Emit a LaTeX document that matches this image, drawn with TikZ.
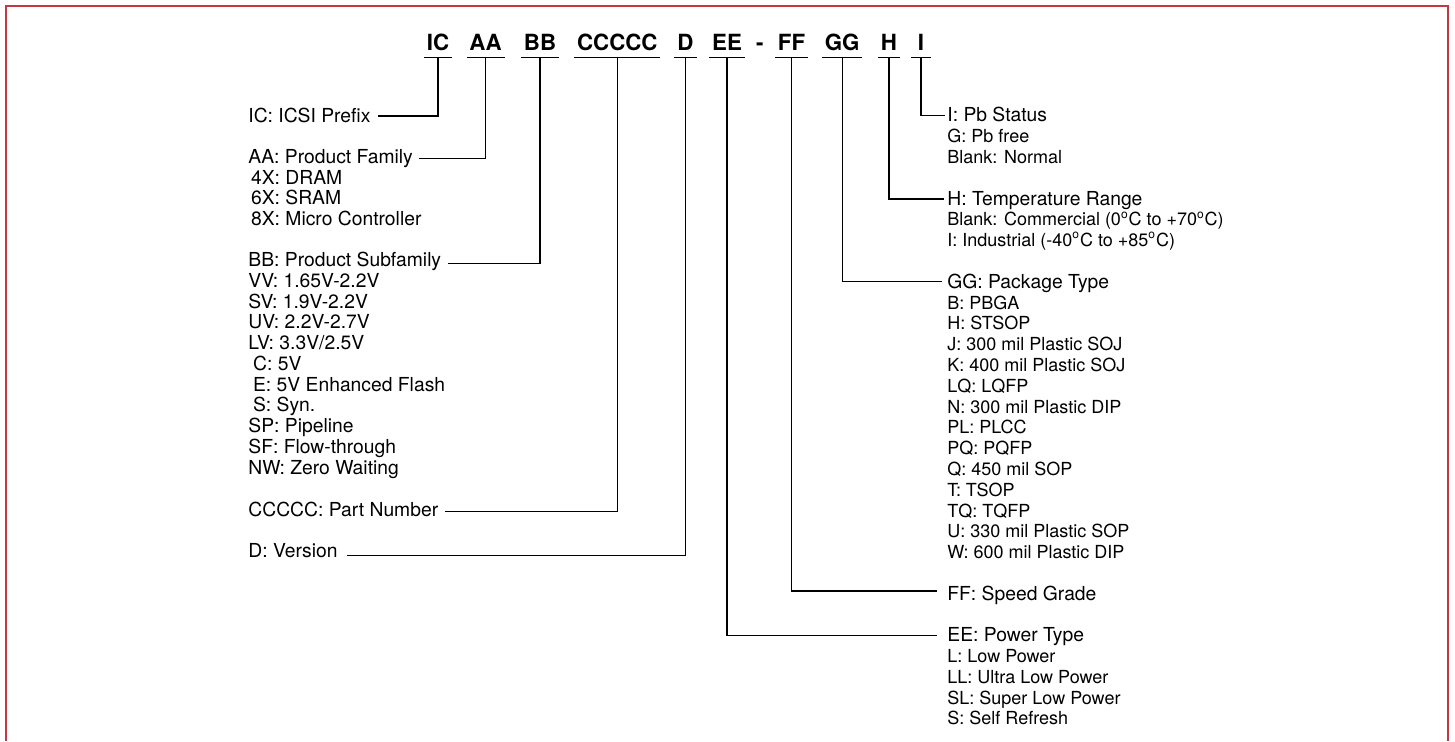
\documentclass[tikz,border=0pt]{standalone}
\usepackage{fontspec}
\setmainfont{TeX Gyre Heros}
\usetikzlibrary{
    positioning,
    calc
}
\definecolor{framered}{RGB}{200,54,64}
\tikzset{
    code/.style={font=\fontsize{11.15}{12}\selectfont\bfseries, inner xsep=1.25pt, inner ysep=3.2pt, anchor=base},
    head/.style={font=\fontsize{9.65}{11}\selectfont, inner sep=0pt, anchor=base west},
    subsmall/.style={font=\fontsize{9}{10}\selectfont, inner sep=0pt, anchor=base west},
    lead/.style={line width=0.6pt}
}

\begin{document}
\begin{tikzpicture}[x=0.5pt, y=-0.5pt]
    \useasboundingbox (0, 0) rectangle (1455, 741);
    \draw[framered, line width=1.2pt] (6.2, 741) -- (6.2, 6.2) -- (1447.8, 6.2) -- (1447.8, 741);

    % part number fields
    \node[code] (ic) at (438, 50.6) {IC};
    \node[code] (aa) at (485.5, 50.6) {AA};
    \node[code] (bb) at (540, 50.6) {BB};
    \node[code] (ccccc) at (617.3, 50.6) {CCCCC};
    \node[code, minimum width=11.5pt] (dd) at (685.5, 50.6) {D};
    \node[code] (ee) at (727, 50.6) {EE};
    \node[code] (dash) at (759.8, 50.6) {-};
    \node[code] (ff) at (791.6, 50.6) {FF};
    \node[code] (gg) at (842.2, 50.6) {GG};
    \node[code] (hh) at (889, 50.6) {H};
    \node[code, minimum width=9.5pt] (ii) at (921, 50.6) {I};
    \foreach \c in {ic, aa, bb, ccccc, dd, ee, ff, gg, hh, ii}
        \draw[lead] (\c.south west) -- (\c.south east);

    % left column
    \node[head] (icl) at (248, 122) {IC: ICSI Prefix};
    \node[head] (aal) at (248, 163.5) {AA: Product Family};
    \foreach \t [count=\k] in {4X: DRAM, 6X: SRAM, 8X: Micro Controller}
        \node[head] (aa-\k) at (250.7, {163.5+20.6*\k}) {\t};
    \node[head] (bbl) at (248, 266.7) {BB: Product Subfamily};
    \foreach \t [count=\k] in {VV: 1.65V-2.2V, SV: 1.9V-2.2V, UV: 2.2V-2.7V, LV: 3.3V/2.5V,
            \kern2.35pt C: 5V, \kern2.35pt E: 5V Enhanced Flash, \kern2.35pt S: Syn.,
            SP: Pipeline, SF: Flow-through, NW: Zero Waiting}
        \node[head] (bb-\k) at (248, {266.7+20.75*\k}) {\t};
    \node[head] (ccl) at (248, 516) {CCCCC: Part Number};
    \node[head] (ddl) at (248, 557.3) {D: Version};

    % right column
    \node[head] (iil) at (947, 121.7) {I: Pb Status};
    \foreach \t [count=\k] in {G: Pb free, Blank: Normal}
        \node[subsmall] (ii-\k) at (947, {121.7+20.8*\k}) {\t};
    \node[head] (hhl) at (947, 205) {H: Temperature Range};
    \foreach \t [count=\k] in {Blank: Commercial (0\textsuperscript{o}C to +70\textsuperscript{o}C),
            I: Industrial (-40\textsuperscript{o}C to +85\textsuperscript{o}C)}
        \node[subsmall] (hh-\k) at (947, {205+20.8*\k}) {\t};
    \node[head] (ggl) at (947, 288.3) {GG: Package Type};
    \foreach \t [count=\k] in {B: PBGA, H: STSOP, J: 300 mil Plastic SOJ, K: 400 mil Plastic SOJ,
            LQ: LQFP, N: 300 mil Plastic DIP, PL: PLCC, PQ: PQFP, Q: 450 mil SOP, T: TSOP,
            TQ: TQFP, U: 330 mil Plastic SOP, W: 600 mil Plastic DIP}
        \node[subsmall] (gg-\k) at (947, {288.3+20.8*\k}) {\t};
    \node[head] (ffl) at (947, 600) {FF: Speed Grade};
    \node[head] (eel) at (947, 641.7) {EE: Power Type};
    \foreach \t [count=\k] in {L: Low Power, LL: Ultra Low Power, SL: Super Low Power, S: Self Refresh}
        \node[subsmall] (ee-\k) at (947, {641.7+20.8*\k}) {\t};

    % leaders
    \draw[lead] (ic.south) |- ([shift={(7,-6)}]icl.base east);
    \draw[lead] (aa.south) |- ([shift={(6,-5)}]aal.base east);
    \draw[lead] (bb.south) |- ([shift={(7,-3.4)}]bbl.base east);
    \draw[lead] (ccccc.south) |- ([shift={(6,-4.3)}]ccl.base east);
    \draw[lead] (dd.south) |- ([shift={(9,-2)}]ddl.base east);
    \draw[lead] (ii.south) |- ([shift={(-2.5,-6)}]iil.base west);
    \draw[lead] (hh.south) |- ([shift={(-3.5,-6)}]hhl.base west);
    \draw[lead] (gg.south) |- ([shift={(-5,-7)}]ggl.base west);
    \draw[lead] (ff.south) |- ([shift={(-10.5,-9)}]ffl.base west);
    \draw[lead] (ee.south) |- ([shift={(-10.5,-6)}]eel.base west);
\end{tikzpicture}
\end{document}
